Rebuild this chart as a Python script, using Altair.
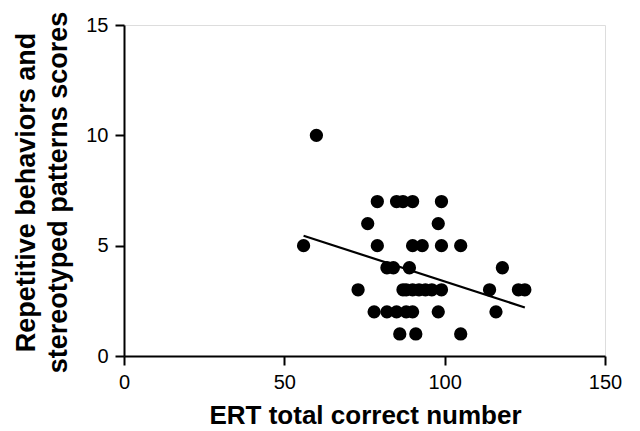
import altair as alt
import pandas as pd

ert_x = [60,
         79, 85, 87, 90, 99,
         76, 98,
         56, 79, 90, 93, 99, 105,
         82, 84, 89, 118,
         73, 87, 88, 90, 92, 94, 96, 99, 114, 123, 125,
         78, 82, 85, 88, 90, 98, 116,
         86, 91, 105]
rbs_y = [10,
         7, 7, 7, 7, 7,
         6, 6,
         5, 5, 5, 5, 5, 5,
         4, 4, 4, 4,
         3, 3, 3, 3, 3, 3, 3, 3, 3, 3, 3,
         2, 2, 2, 2, 2, 2, 2,
         1, 1, 1]

fit_x = [56, 125]
fit_y = [5.45, 2.2]

pts = pd.DataFrame({"x": ert_x, "y": rbs_y})
fit = pd.DataFrame({"x": fit_x, "y": fit_y})

FONT = "Liberation Sans"

xscale = alt.Scale(domain=[0, 150], nice=False, zero=False)
yscale = alt.Scale(domain=[0, 15], nice=False, zero=False)

xaxis = alt.Axis(values=[0, 50, 100, 150], title="ERT total correct number",
                 grid=False, domainColor="black", domainWidth=2, tickColor="black",
                 tickWidth=2, tickSize=9, labelFont=FONT, labelFontSize=20,
                 labelColor="black", labelPadding=7, titleFont=FONT,
                 titleFontSize=26, titleFontWeight="bold", titleColor="black",
                 titleBaseline="alphabetic", titleY=67, titleX=241,
                 titleAlign="center", labelFlush=False)
yaxis = alt.Axis(values=[0, 5, 10, 15],
                 title=["Repetitive behaviors and", "stereotyped patterns scores"],
                 grid=False, domainColor="black", domainWidth=2, tickColor="black",
                 tickWidth=2, tickSize=9, labelFont=FONT, labelFontSize=20,
                 labelColor="black", labelPadding=7, titleFont=FONT,
                 titleFontSize=27, titleFontWeight="bold", titleColor="black",
                 titleAngle=-90, titleBaseline="alphabetic", titleAlign="center",
                 titleX=-90, titleY=167, titleLineHeight=32, labelFlush=False)

points = alt.Chart(pts).mark_circle(size=177, color="black", opacity=1).encode(
    x=alt.X("x:Q", scale=xscale, axis=xaxis),
    y=alt.Y("y:Q", scale=yscale, axis=yaxis),
)
line = alt.Chart(fit).mark_line(color="black", strokeWidth=2.2).encode(
    x=alt.X("x:Q", scale=xscale),
    y=alt.Y("y:Q", scale=yscale),
)

chart = (points + line).properties(
    width=481, height=331,
    autosize=alt.AutoSizeParams(type="none"),
    padding={"left": 116, "top": 17, "right": 27, "bottom": 75},
).configure_view(stroke=None).configure(background="white")

chart.save("out.html", embed_options={"renderer": "svg", "actions": False})
